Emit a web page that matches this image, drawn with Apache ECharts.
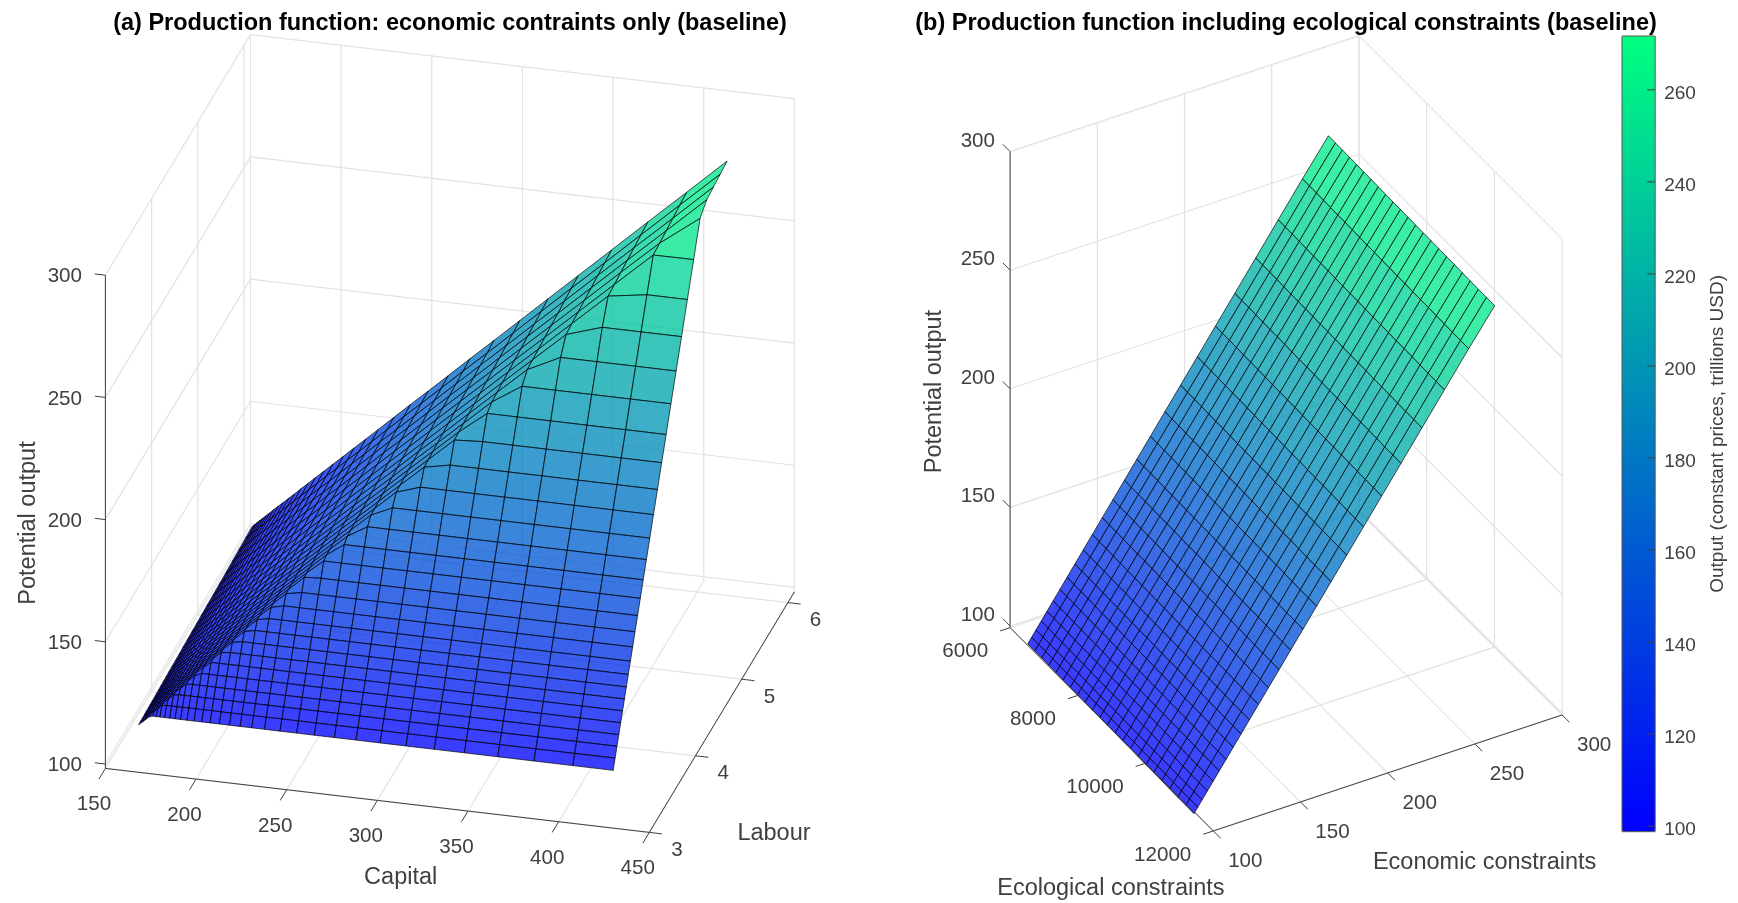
<!DOCTYPE html>
<html><head><meta charset="utf-8">
<style>html,body{margin:0;padding:0;background:#fff}#c{width:1738px;height:903px}</style>
<script src="https://cdn.jsdelivr.net/npm/echarts@6/dist/echarts.min.js"></script>
</head><body><div id="c"></div>
<script>
// ---------- Panel (a) data ----------
const capitalTicks=[150,200,250,300,350,400,450];
const labourTicks=[3,4,5,6];
const outputTicks=[100,150,200,250,300];
const capitalGrid=[151.7,153,154.3,155.8,157.5,159.3,161.3,163.5,166.1,168.9,171.8,174.9,178.4,182.3,186.5,191.1,196.2,201.8,207.7,214.1,221.1,229.7,238.9,248.6,259.7,271.6,284.9,299.2,314.8,331.4,349.8,369.8,391.2,413.5];
const labourGrid=[3.651,3.692,3.733,3.773,3.813,3.854,3.894,3.936,3.978,4.024,4.072,4.123,4.179,4.238,4.301,4.37,4.443,4.523,4.609,4.7,4.797,4.901,5.013,5.13,5.257,5.393,5.532,5.675,5.82,5.968,6.117];
const outputA=[
[95.8,96.6,97.4,98.4,99.5,100,100,100,100,100,100,100,100,100,100,100,100,100,100,100,100,100,100,100,100,100,100,100,100,100,100,100,100,100],
[95.9,96.6,97.5,98.5,99.5,100.7,101.9,103.4,103.7,103.7,103.7,103.7,103.7,103.7,103.7,103.7,103.7,103.7,103.7,103.7,103.7,103.7,103.7,103.7,103.7,103.7,103.7,103.7,103.7,103.7,103.7,103.7,103.7,103.7],
[95.9,96.7,97.6,98.5,99.6,100.7,102,103.4,105.1,106.8,107.3,107.3,107.3,107.3,107.3,107.3,107.3,107.3,107.3,107.3,107.3,107.3,107.3,107.3,107.3,107.3,107.3,107.3,107.3,107.3,107.3,107.3,107.3,107.3],
[96,96.8,97.6,98.6,99.7,100.8,102.1,103.5,105.1,106.9,108.7,110.6,110.8,110.8,110.8,110.8,110.8,110.8,110.8,110.8,110.8,110.8,110.8,110.8,110.8,110.8,110.8,110.8,110.8,110.8,110.8,110.8,110.8,110.8],
[96.1,96.8,97.7,98.7,99.7,100.9,102.1,103.6,105.2,106.9,108.8,110.7,113,114.4,114.4,114.4,114.4,114.4,114.4,114.4,114.4,114.4,114.4,114.4,114.4,114.4,114.4,114.4,114.4,114.4,114.4,114.4,114.4,114.4],
[96.1,96.9,97.8,98.7,99.8,101,102.2,103.7,105.3,107,108.9,110.8,113.1,115.5,118,118,118,118,118,118,118,118,118,118,118,118,118,118,118,118,118,118,118,118],
[96.2,97,97.8,98.8,99.9,101,102.3,103.7,105.4,107.1,108.9,110.8,113.2,115.6,118.3,121.2,121.6,121.6,121.6,121.6,121.6,121.6,121.6,121.6,121.6,121.6,121.6,121.6,121.6,121.6,121.6,121.6,121.6,121.6],
[96.3,97,97.9,98.9,99.9,101.1,102.3,103.8,105.4,107.2,109,110.9,113.2,115.7,118.4,121.3,124.5,125.2,125.2,125.2,125.2,125.2,125.2,125.2,125.2,125.2,125.2,125.2,125.2,125.2,125.2,125.2,125.2,125.2],
[96.3,97.1,98,98.9,100,101.2,102.4,103.9,105.5,107.2,109.1,111,113.3,115.7,118.4,121.3,124.6,128.1,129,129,129,129,129,129,129,129,129,129,129,129,129,129,129,129],
[96.4,97.2,98,99,100.1,101.2,102.5,103.9,105.6,107.3,109.2,111.1,113.4,115.8,118.5,121.4,124.7,128.2,132,133,133,133,133,133,133,133,133,133,133,133,133,133,133,133],
[96.5,97.3,98.1,99.1,100.2,101.3,102.6,104,105.7,107.4,109.2,111.2,113.5,115.9,118.6,121.5,124.8,128.3,132.1,136.1,137.3,137.3,137.3,137.3,137.3,137.3,137.3,137.3,137.3,137.3,137.3,137.3,137.3,137.3],
[96.6,97.3,98.2,99.2,100.2,101.4,102.7,104.1,105.8,107.5,109.3,111.3,113.6,116,118.7,121.6,124.9,128.4,132.2,136.2,140.7,141.9,141.9,141.9,141.9,141.9,141.9,141.9,141.9,141.9,141.9,141.9,141.9,141.9],
[96.7,97.4,98.3,99.3,100.3,101.5,102.8,104.2,105.9,107.6,109.5,111.4,113.7,116.1,118.9,121.8,125,128.5,132.3,136.4,140.8,146.4,146.8,146.8,146.8,146.8,146.8,146.8,146.8,146.8,146.8,146.8,146.8,146.8],
[96.8,97.5,98.4,99.4,100.4,101.6,102.9,104.3,106,107.7,109.6,111.5,113.8,116.2,119,121.9,125.2,128.7,132.4,136.5,141,146.5,152,152,152,152,152,152,152,152,152,152,152,152],
[96.9,97.6,98.5,99.5,100.5,101.7,103,104.4,106.1,107.8,109.7,111.6,113.9,116.4,119.1,122,125.3,128.8,132.6,136.6,141.1,146.6,152.6,157.6,157.6,157.6,157.6,157.6,157.6,157.6,157.6,157.6,157.6,157.6],
[97,97.7,98.6,99.6,100.7,101.8,103.1,104.5,106.2,107.9,109.8,111.7,114.1,116.5,119.2,122.1,125.4,128.9,132.7,136.8,141.3,146.8,152.7,158.9,163.7,163.7,163.7,163.7,163.7,163.7,163.7,163.7,163.7,163.7],
[97.1,97.9,98.7,99.7,100.8,101.9,103.2,104.7,106.3,108.1,109.9,111.9,114.2,116.6,119.4,122.3,125.6,129.1,132.9,137,141.4,147,152.9,159.1,166.2,170.2,170.2,170.2,170.2,170.2,170.2,170.2,170.2,170.2],
[97.2,98,98.9,99.8,100.9,102.1,103.4,104.8,106.5,108.2,110.1,112,114.4,116.8,119.5,122.4,125.8,129.3,133.1,137.2,141.6,147.2,153.1,159.3,166.4,174.1,177.3,177.3,177.3,177.3,177.3,177.3,177.3,177.3],
[97.4,98.1,99,100,101.1,102.2,103.5,105,106.6,108.4,110.2,112.2,114.5,117,119.7,122.6,125.9,129.4,133.3,137.4,141.8,147.4,153.4,159.5,166.6,174.3,182.8,184.9,184.9,184.9,184.9,184.9,184.9,184.9],
[97.5,98.3,99.2,100.1,101.2,102.4,103.7,105.1,106.8,108.5,110.4,112.4,114.7,117.1,119.9,122.8,126.1,129.6,133.5,137.6,142.1,147.6,153.6,159.7,166.9,174.6,183.1,192.3,193,193,193,193,193,193],
[97.7,98.4,99.3,100.3,101.4,102.5,103.8,105.3,106.9,108.7,110.6,112.5,114.9,117.3,120.1,123,126.3,129.8,133.7,137.8,142.3,147.9,153.8,160,167.1,174.9,183.4,192.6,201.5,201.5,201.5,201.5,201.5,201.5],
[97.8,98.6,99.5,100.5,101.5,102.7,104,105.5,107.1,108.9,110.8,112.7,115.1,117.5,120.3,123.2,126.5,130.1,133.9,138,142.5,148.1,154.1,160.3,167.4,175.2,183.7,192.9,203,210.8,210.8,210.8,210.8,210.8],
[98,98.8,99.7,100.7,101.7,102.9,104.2,105.7,107.3,109.1,111,112.9,115.3,117.7,120.5,123.4,126.8,130.3,134.1,138.3,142.8,148.4,154.4,160.6,167.7,175.5,184,193.3,203.4,214.1,220.7,220.7,220.7,220.7],
[98.2,99,99.9,100.9,101.9,103.1,104.4,105.9,107.5,109.3,111.2,113.1,115.5,118,120.7,123.7,127,130.6,134.4,138.5,143.1,148.7,154.7,160.9,168,175.8,184.4,193.6,203.8,214.5,226.4,231.1,231.1,231.1],
[98.4,99.2,100.1,101.1,102.1,103.3,104.6,106.1,107.8,109.5,111.4,113.4,115.8,118.2,121,123.9,127.3,130.8,134.7,138.8,143.4,149,155,161.2,168.4,176.2,184.8,194,204.2,214.9,226.9,239.9,242.3,242.3],
[98.6,99.4,100.3,101.3,102.4,103.6,104.8,106.3,108,109.8,111.7,113.6,116,118.5,121.3,124.2,127.6,131.1,135,139.1,143.7,149.3,155.3,161.6,168.8,176.6,185.2,194.5,204.7,215.4,227.4,240.4,254.3,254.4],
[98.8,99.6,100.5,101.5,102.6,103.8,105.1,106.6,108.3,110,111.9,113.9,116.3,118.8,121.5,124.5,127.9,131.4,135.3,139.4,144,149.6,155.7,161.9,169.2,177,185.6,194.9,205.1,215.9,227.9,241,254.8,266.9],
[99.1,99.9,100.8,101.8,102.8,104,105.3,106.8,108.5,110.3,112.2,114.2,116.5,119,121.8,124.8,128.2,131.7,135.6,139.8,144.3,150,156.1,162.3,169.6,177.4,186,195.4,205.6,216.4,228.4,241.5,255.4,270],
[99.3,100.1,101,102,103.1,104.3,105.6,107.1,108.8,110.6,112.4,114.4,116.8,119.3,122.1,125.1,128.5,132,135.9,140.1,144.7,150.4,156.4,162.7,170,177.8,186.5,195.8,206.1,216.9,229,242.1,256,270.7],
[99.6,100.3,101.2,102.2,103.3,104.5,105.8,107.3,109,110.8,112.7,114.7,117.1,119.6,122.4,125.4,128.8,132.4,136.3,140.4,145,150.7,156.8,163.1,170.4,178.3,186.9,196.3,206.6,217.5,229.5,242.7,256.7,271.3],
[99.8,100.6,101.5,102.5,103.6,104.8,106.1,107.6,109.3,111.1,113,115,117.4,119.9,122.7,125.7,129.1,132.7,136.6,140.8,145.4,151.1,157.2,163.5,170.8,178.7,187.4,196.8,207.1,218,230.1,243.3,257.3,272]
];
// ---------- Panel (b) data ----------
const economicTicks=[100,150,200,250,300];
const ecologicalTicks=[6000,8000,10000,12000];
const economicGrid=[100,102.2,104.7,107.7,111,114.5,118.4,122.5,127,131.8,137,142.7,148.8,155.4,162.5,170.3,178.6,187.6,197.2,207.6,218.7,230.7,243.6,257.5,272.4];
const outputByEconomic=[100,102.2,104.7,107.7,111,114.5,118.4,122.5,127,131.8,137,142.7,148.8,155.4,162.5,170.3,178.6,187.6,197.2,207.6,218.7,230.7,243.6,257.5,272];
const ecologicalGrid=[6523,6728,6935,7143,7353,7565,7779,7994,8211,8430,8650,8872,9096,9322,9549,9778,10009,10241,10475,10711,10949,11188,11429];
const ecologicalShift=[0,-0.1,-0.1,-0.2,-0.3,-0.4,-0.4,-0.5,-0.6,-0.7,-0.7,-0.8,-0.9,-1,-1,-1.1,-1.2,-1.2,-1.3,-1.4,-1.5,-1.5,-1.6];
// ---------- Colour bar ----------
const colorbarTicks=[100,120,140,160,180,200,220,240,260];
const colorMin=98.8, colorMax=271.7;

// ---------- 3D view of each panel (MATLAB-style orthographic view) ----------
function projA(k,l,z){return [105.4+1.813*(k-150)+46.2*(l-3),764+0.2133*(k-150)-76.6*(l-3)-2.444*(z-100)];}
function projB(e,c,z){return [1010.1+1.744*(e-100)+0.03387*(c-6000),626-0.58*(e-100)+0.03388*(c-6000)-2.372*(z-100)];}
const aFloor=98.2,aLmax=6.14,aTop=300,bFloor=99.3,bTop=300;

const gridSegs=[],axisSegs=[];
function add(list,a,b){list.push([a[0],a[1],b[0],b[1]]);}
outputTicks.forEach(z=>{add(gridSegs,projA(150,aLmax,z),projA(450,aLmax,z));add(gridSegs,projA(150,3,z),projA(150,aLmax,z));});
capitalTicks.forEach(k=>{add(gridSegs,projA(k,aLmax,aFloor),projA(k,aLmax,aTop));add(gridSegs,projA(k,3,aFloor),projA(k,aLmax,aFloor));});
labourTicks.forEach(l=>{add(gridSegs,projA(150,l,aFloor),projA(150,l,aTop));add(gridSegs,projA(150,l,aFloor),projA(450,l,aFloor));});
outputTicks.forEach(z=>{add(gridSegs,projB(100,6000,z),projB(300,6000,z));add(gridSegs,projB(300,6000,z),projB(300,12000,z));});
economicTicks.forEach(e=>{add(gridSegs,projB(e,6000,bFloor),projB(e,6000,bTop));add(gridSegs,projB(e,6000,bFloor),projB(e,12000,bFloor));});
ecologicalTicks.forEach(c=>{add(gridSegs,projB(300,c,bFloor),projB(300,c,bTop));add(gridSegs,projB(100,c,bFloor),projB(300,c,bFloor));});
add(axisSegs,projA(150,3,aFloor),projA(150,3,aTop));
add(axisSegs,projA(150,3,aFloor),projA(450,3,aFloor));
add(axisSegs,projA(450,3,aFloor),projA(450,aLmax,aFloor));
outputTicks.forEach(z=>add(axisSegs,projA(150,3,z),projA(144.15,3,z)));
capitalTicks.forEach(k=>add(axisSegs,projA(k,3,aFloor),projA(k,2.86,aFloor)));
labourTicks.forEach(l=>add(axisSegs,projA(450,l,aFloor),projA(457,l,aFloor)));
add(axisSegs,projB(100,6000,bFloor),projB(100,6000,bTop));
add(axisSegs,projB(100,6000,bFloor),projB(100,12000,bFloor));
add(axisSegs,projB(100,12000,bFloor),projB(300,12000,bFloor));
outputTicks.forEach(z=>add(axisSegs,projB(100,6000,z),projB(100,5785,z)));
ecologicalTicks.forEach(c=>add(axisSegs,projB(100,c,bFloor),projB(94.3,c,bFloor)));
economicTicks.forEach(e=>add(axisSegs,projB(e,12000,bFloor),projB(e,12215,bFloor)));

const labels=[];
const ink='#404040',tickSize=20.6,nameSize=23.5;
function lab(p,dx,dy,text,align,size,rot){labels.push({x:p[0]+dx,y:p[1]+dy,text:String(text),align:align||'center',size:size||tickSize,rot:rot||0});}
outputTicks.forEach(z=>lab(projA(150,3,z),-23.4,1.5,z,'right'));
capitalTicks.forEach(k=>lab(projA(k,3,aFloor),-11.5,36.2,k));
labourTicks.forEach(l=>lab(projA(450,l,aFloor),27.7,17.8,l));
outputTicks.forEach(z=>lab(projB(100,6000,z),-15.1,-10.7,z,'right'));
ecologicalTicks.forEach(c=>lab(projB(100,c,bFloor),-22,24,c,'right'));
economicTicks.forEach(e=>lab(projB(e,12000,bFloor),32,30.8,e));
lab([400.7,878],0,0,'Capital','center',nameSize);
lab([774,834],0,0,'Labour','center',nameSize);
lab([28.7,523],0,0,'Potential output','center',nameSize,Math.PI/2);
lab([1484.6,862.3],0,0,'Economic constraints','center',nameSize);
lab([1110.9,889],0,0,'Ecological constraints','center',nameSize);
lab([934.8,391.6],0,0,'Potential output','center',nameSize,Math.PI/2);

const cellsA=[],cellsB=[];
for(let i=labourGrid.length-2;i>=0;i--)for(let j=0;j<capitalGrid.length-1;j++)cellsA.push([i,j,outputA[i][j]]);
for(let i=0;i<ecologicalGrid.length-1;i++)for(let j=economicGrid.length-2;j>=0;j--)cellsB.push([i,j,outputByEconomic[j]+ecologicalShift[i]]);

const faceAlpha=0.77;
function cellStyle(api){return {fill:echarts.color.modifyAlpha(api.visual('color'),faceAlpha),stroke:'rgba(0,0,0,0.85)',lineWidth:0.8,lineJoin:'round'};}
function segRender(color,width){return function(p,api){const a=api.coord([api.value(0),api.value(1)]),b=api.coord([api.value(2),api.value(3)]);return {type:'line',silent:true,shape:{x1:a[0],y1:a[1],x2:b[0],y2:b[1]},style:{stroke:color,lineWidth:width}};};}

const chart=echarts.init(document.getElementById('c'),null,{renderer:'canvas'});
chart.setOption({
  animation:false,backgroundColor:'#fff',
  title:[
    {text:'(a) Production function: economic contraints only (baseline)',left:445,top:7,textAlign:'center',textStyle:{fontFamily:'Liberation Sans',fontSize:23.5,fontWeight:'bold',color:'#000'}},
    {text:'(b) Production function including ecological constraints (baseline)',left:1281,top:7,textAlign:'center',textStyle:{fontFamily:'Liberation Sans',fontSize:23.5,fontWeight:'bold',color:'#000'}}
  ],
  grid:[
    {left:0,top:0,width:1738,height:903,show:false},
    {left:1622,top:36,width:33.2,height:795.7,show:true,borderColor:'#555',borderWidth:1,backgroundColor:'transparent',z:6}
  ],
  xAxis:[
    {type:'value',gridIndex:0,min:0,max:1738,show:false},
    {type:'value',gridIndex:1,min:0,max:1,show:false}
  ],
  yAxis:[
    {type:'value',gridIndex:0,min:0,max:903,inverse:true,show:false},
    {type:'value',gridIndex:1,position:'right',min:colorMin,max:colorMax,z:6,
      axisLine:{show:false},splitLine:{show:false},axisTick:{show:false},axisLabel:{show:false},
      name:'Output (constant prices, trillions USD)',nameLocation:'middle',nameGap:53,nameRotate:90,
      nameTextStyle:{fontFamily:'Liberation Sans',fontSize:19,color:ink}}
  ],
  visualMap:[{type:'continuous',min:colorMin,max:colorMax,left:1622,top:36,itemWidth:33.2,itemHeight:795.7,padding:0,
    calculable:false,hoverLink:false,showLabel:false,text:null,dimension:2,seriesIndex:[1,2],z:2,
    inRange:{color:['#0000ff','#00ff80']}}],
  series:[
    {type:'custom',coordinateSystem:'cartesian2d',silent:true,z:1,data:gridSegs,encode:{x:[0,2],y:[1,3]},renderItem:segRender('#e2e2e2',1.2)},
    {type:'custom',coordinateSystem:'cartesian2d',silent:true,z:2,progressive:0,data:cellsA,encode:{x:0,y:1},
      renderItem:function(p,api){const i=api.value(0),j=api.value(1);
        const pts=[[i,j],[i,j+1],[i+1,j+1],[i+1,j]].map(q=>api.coord(projA(capitalGrid[q[1]],labourGrid[q[0]],outputA[q[0]][q[1]])));
        return {type:'polygon',silent:true,shape:{points:pts},style:cellStyle(api)};}},
    {type:'custom',coordinateSystem:'cartesian2d',silent:true,z:2,progressive:0,data:cellsB,encode:{x:0,y:1},
      renderItem:function(p,api){const i=api.value(0),j=api.value(1);
        const pts=[[i,j],[i,j+1],[i+1,j+1],[i+1,j]].map(q=>api.coord(projB(economicGrid[q[1]],ecologicalGrid[q[0]],outputByEconomic[q[1]]+ecologicalShift[q[0]])));
        return {type:'polygon',silent:true,shape:{points:pts},style:cellStyle(api)};}},
    {type:'custom',coordinateSystem:'cartesian2d',silent:true,z:3,data:axisSegs,encode:{x:[0,2],y:[1,3]},renderItem:segRender('#404040',1)},
    {type:'custom',coordinateSystem:'cartesian2d',silent:true,z:4,data:labels.map(l=>[l.x,l.y]),encode:{x:0,y:1},
      renderItem:function(p,api){const l=labels[p.dataIndex],c=api.coord([l.x,l.y]);
        return {type:'text',silent:true,x:c[0],y:c[1],rotation:l.rot,style:{text:l.text,align:l.align,verticalAlign:'middle',fontFamily:'Liberation Sans',fontSize:l.size,fill:ink}};}},
    {type:'custom',coordinateSystem:'cartesian2d',xAxisIndex:1,yAxisIndex:1,silent:true,z:7,data:colorbarTicks.map(v=>[1,v]),encode:{x:0,y:1},
      renderItem:function(p,api){const v=api.value(1),b=api.coord([1,v]);
        return {type:'group',silent:true,children:[
          {type:'line',silent:true,shape:{x1:b[0]-8,y1:b[1],x2:b[0],y2:b[1]},style:{stroke:'#404040',lineWidth:1}},
          {type:'text',silent:true,x:b[0]+9,y:b[1]+3.5,style:{text:String(v),align:'left',verticalAlign:'middle',fontFamily:'Liberation Sans',fontSize:19,fill:ink}}
        ]};}}
  ]
});
</script></body></html>
